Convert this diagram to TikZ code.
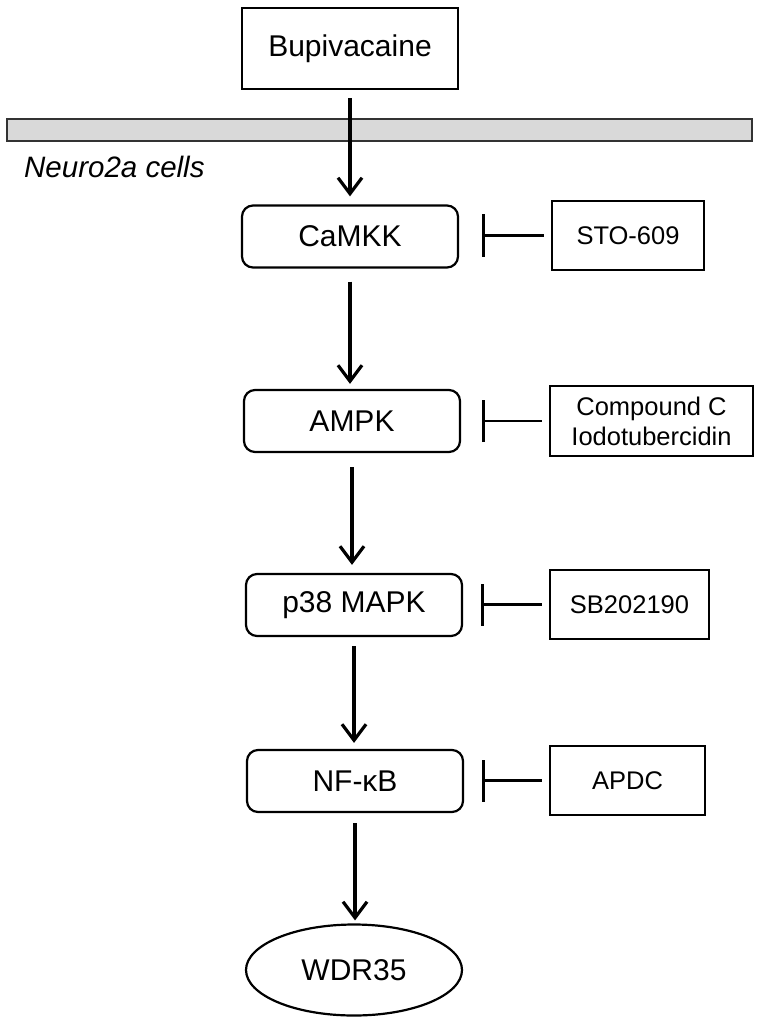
\documentclass[tikz,border=0pt]{standalone}
\usepackage{fontspec}
\setmainfont{Liberation Sans}
\usetikzlibrary{arrows.meta,shapes.geometric}
\begin{document}
\begin{tikzpicture}[x=1pt,y=-1pt,
  bigtxt/.style={font=\fontsize{30}{35}\selectfont},
  smalltxt/.style={font=\fontsize{25.5}{30}\selectfont},
  plainbox/.style={draw=black,line width=2.2pt,inner sep=0pt,bigtxt},
  stepbox/.style={draw=black,line width=2.2pt,rounded corners=11pt,inner sep=0pt,minimum width=216pt,minimum height=62pt,bigtxt},
  inhbox/.style={draw=black,line width=2.2pt,inner sep=0pt,minimum height=69pt,smalltxt,align=center},
  act/.style={line width=3.2pt,-{Straight Barb[length=16pt,width=24pt,line width=3.2pt]}},
  inh/.style={line width=2.6pt,-{Bar[width=42pt,line width=2.6pt]}}
]
\useasboundingbox (0,0) rectangle (760,1024);
% membrane
\path[fill={rgb,255:red,217;green,217;blue,217},draw=black!80,line width=1.8pt] (7,119) rectangle (752,141);
\node[anchor=base west,font=\fontsize{29.5}{34}\selectfont\itshape,inner sep=0pt] (cells) at (24,178) {Neuro2a cells};

\node[plainbox,minimum width=216pt,minimum height=81pt] (bup) at (350,48.5) {Bupivacaine};
\node[stepbox] (camkk) at (350,236.5) {CaMKK};
\node[stepbox] (ampk) at (352,421) {AMPK};
\node[stepbox] (p38) at (354,605) {p38 MAPK};
\node[stepbox] (nfkb) at (355,781) {NF-κB};
\node[ellipse,draw=black,line width=2.2pt,inner sep=0pt,minimum width=216pt,minimum height=91pt,bigtxt] (wdr) at (354,970) {WDR35};

\node[inhbox,minimum width=152pt] (sto) at (628,235.5) {STO-609};
\node[inhbox,minimum width=203pt,minimum height=70pt] (cc) at (651.5,421) {Compound C\\Iodotubercidin};
\node[inhbox,minimum width=159pt] (sb) at (629.5,604.5) {SB202190};
\node[inhbox,minimum width=155pt] (apdc) at (627.5,780.5) {APDC};

% activation arrows
\draw[act,shorten <=8pt,shorten >=8pt] (bup.south) -- (bup.south |- camkk.north);
\draw[act,shorten <=13pt,shorten >=5pt] (camkk.south) -- (camkk.south |- ampk.north);
\draw[act,shorten <=14pt,shorten >=8pt] (ampk.south) -- (ampk.south |- p38.north);
\draw[act,shorten <=9pt,shorten >=6pt] (p38.south) -- (p38.south |- nfkb.north);
\draw[act,shorten <=10pt,shorten >=3pt] (nfkb.south) -- (nfkb.south |- wdr.north);

% inhibition
\draw[inh,shorten <=7pt,shorten >=23pt] (sto.west) -- (camkk.east |- sto.west);
\draw[inh,shorten <=7pt,shorten >=21pt] (cc.west) -- (ampk.east |- cc.west);
\draw[inh,shorten <=7pt,shorten >=18pt] (sb.west) -- (p38.east |- sb.west);
\draw[inh,shorten <=7pt,shorten >=18pt] (apdc.west) -- (nfkb.east |- apdc.west);
\end{tikzpicture}
\end{document}
